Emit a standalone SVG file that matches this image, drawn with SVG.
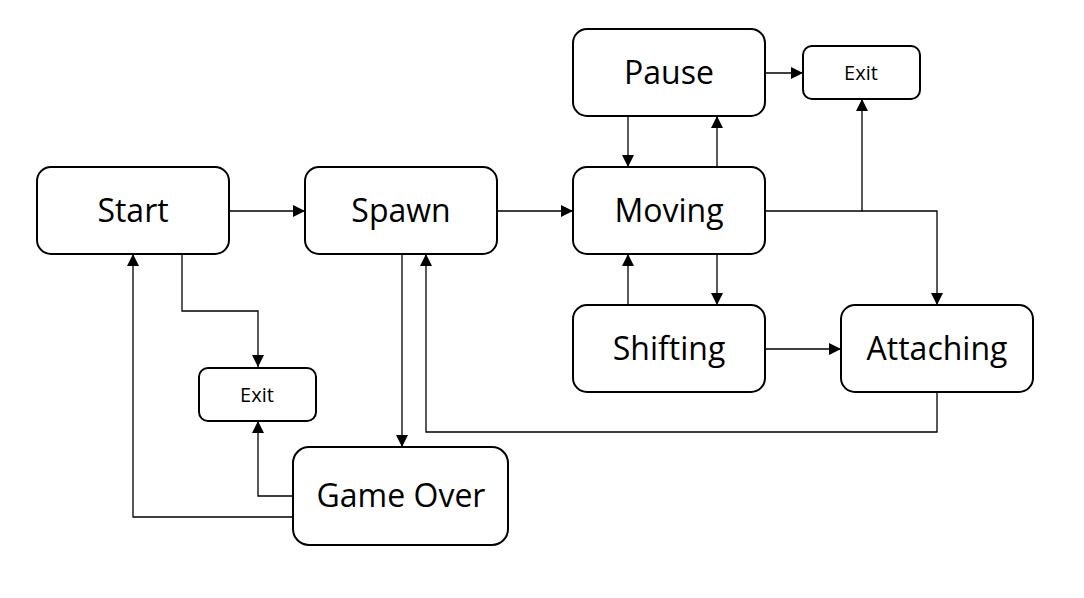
<svg xmlns="http://www.w3.org/2000/svg" width="1084" height="598" viewBox="0 0 1084 598">
<style>
.box{fill:#fff;stroke:#000;stroke-width:2}
.big{font-family:"Open Sans","Noto Sans",sans-serif;font-size:32px;fill:#000;text-anchor:middle}
.small{font-family:"Open Sans","Noto Sans",sans-serif;font-size:20px;fill:#000;text-anchor:middle}
.ln{fill:none;stroke:#000;stroke-width:1.3;marker-end:url(#ah)}
.pl{fill:none;stroke:#000;stroke-width:1.3}
</style>
<defs>
<marker id="ah" viewBox="0 0 10 10" refX="10" refY="5" markerWidth="12" markerHeight="12" markerUnits="userSpaceOnUse" orient="auto">
<path d="M0,0 L10,5 L0,10 Z" fill="#000"/>
</marker>
</defs>
<rect width="1084" height="598" fill="#fff"/>
<g id="connectors">
<path class="ln" d="M229,211 H305"/>
<path class="ln" d="M497,211 H573"/>
<path class="ln" d="M765,73 H803"/>
<path class="ln" d="M628,116 V167"/>
<path class="ln" d="M717,167 V116"/>
<path class="ln" d="M717,254 V305"/>
<path class="ln" d="M628,305 V254"/>
<path class="ln" d="M765,211 H862 V99"/>
<path class="ln" d="M862,211 H937 V305"/>
<path class="ln" d="M765,349 H841"/>
<path class="ln" d="M937,392 V432 H426 V254"/>
<path class="ln" d="M402,254 V447"/>
<path class="ln" d="M182,254 V311 H258 V367"/>
<path class="ln" d="M293,496 H258 V421"/>
<path class="ln" d="M293,517 H133 V254"/>
</g>
<g id="start"><rect class="box" x="37" y="167" width="192" height="87" rx="14"/><text class="big" x="133" y="222">Start</text></g>
<g id="spawn"><rect class="box" x="305" y="167" width="192" height="87" rx="14"/><text class="big" x="401" y="222">Spawn</text></g>
<g id="moving"><rect class="box" x="573" y="167" width="192" height="87" rx="14"/><text class="big" x="669" y="222">Moving</text></g>
<g id="pause"><rect class="box" x="573" y="29" width="192" height="87" rx="14"/><text class="big" x="669" y="84">Pause</text></g>
<g id="exit-top"><rect class="box" x="803" y="46" width="117" height="53" rx="9"/><text class="small" x="861" y="80">Exit</text></g>
<g id="shifting"><rect class="box" x="573" y="305" width="192" height="87" rx="14"/><text class="big" x="669" y="360">Shifting</text></g>
<g id="attaching"><rect class="box" x="841" y="305" width="192" height="87" rx="14"/><text class="big" x="937" y="360">Attaching</text></g>
<g id="exit-bottom"><rect class="box" x="199" y="368" width="117" height="53" rx="9"/><text class="small" x="257" y="402">Exit</text></g>
<g id="game-over"><rect class="box" x="293" y="447" width="215" height="98" rx="16"/><text class="big" x="401" y="507">Game Over</text></g>
</svg>
